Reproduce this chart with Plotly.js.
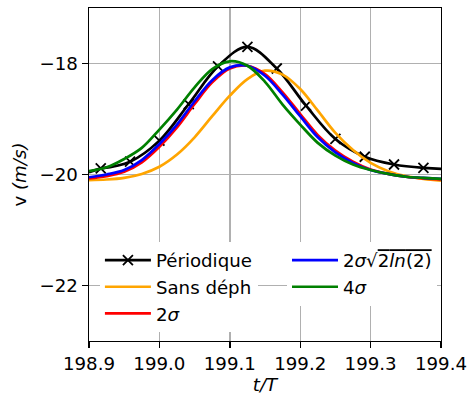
<!DOCTYPE html>
<html><head><meta charset="utf-8">
<script src="https://cdn.plot.ly/plotly-3.0.1.min.js"></script>
<style>html,body{margin:0;padding:0;background:#fff}#chart{width:470px;height:397px}</style>
</head><body><div id="chart"></div>
<script>
// time grid (t/T) for the smooth curves
const tGrid = [198.9, 198.925, 198.95, 198.975, 199.0, 199.025, 199.05, 199.075, 199.1, 199.125, 199.15,
               199.175, 199.2, 199.225, 199.25, 199.275, 199.3, 199.325, 199.35, 199.375, 199.4];
// "Sans déph" (orange)
const vSansDeph = [-20.10, -20.09, -20.06, -19.99, -19.86, -19.64, -19.33, -18.95, -18.58, -18.28, -18.13,
                   -18.20, -18.46, -18.85, -19.25, -19.56, -19.79, -19.94, -20.03, -20.08, -20.11];
// "2σ" (red)
const v2Sigma = [-20.07, -20.03, -19.95, -19.78, -19.50, -19.15, -18.73, -18.34, -18.09, -18.04, -18.19,
                 -18.52, -18.91, -19.29, -19.57, -19.77, -19.91, -19.99, -20.04, -20.07, -20.09];
// "2σ√(2ln(2))" (blue)
const v2SigmaLn = [-20.05, -20.00, -19.92, -19.74, -19.45, -19.10, -18.68, -18.30, -18.07, -18.04, -18.22,
                   -18.56, -18.95, -19.33, -19.60, -19.79, -19.92, -19.99, -20.04, -20.06, -20.08];
// "4σ" (green)
const v4Sigma = [-19.94, -19.87, -19.72, -19.52, -19.19, -18.83, -18.43, -18.10, -17.96, -18.04, -18.33,
                 -18.74, -19.10, -19.43, -19.66, -19.82, -19.92, -19.99, -20.04, -20.06, -20.08];
// "Périodique" (black, with markers)
const tPeriodique = [198.9167, 198.9583, 199.0, 199.0417, 199.0833, 199.125, 199.1667, 199.2083,
                     199.25, 199.2917, 199.3333, 199.375];
const vPeriodique = [-19.89, -19.77, -19.39, -18.73, -18.05, -17.70, -18.09, -18.76,
                     -19.36, -19.68, -19.82, -19.88];
// black line continues to the frame edges
const tPeriodiqueEdges = [198.9, 198.9167, null, 199.375, 199.4];
const vPeriodiqueEdges = [-19.96, -19.89, null, -19.88, -19.90];

const names = ['Périodique', 'Sans déph', '2<i>σ</i>',
  '2<i>σ</i>√<span style="text-decoration:overline">2<i>ln</i>(2)</span>', '4<i>σ</i>'];
const colors = ['#000000', '#FFA500', '#FF0000', '#0000FF', '#008000'];

const LW = 2.7;
const traces = [
  {x: tPeriodiqueEdges, y: vPeriodiqueEdges, mode: 'lines', line: {color: colors[0], width: LW, shape: 'spline'},
   showlegend: false, hoverinfo: 'skip'},
  {x: tPeriodique, y: vPeriodique, name: names[0], mode: 'lines+markers', legend: 'legend',
   line: {color: colors[0], width: LW, shape: 'spline'},
   marker: {symbol: 'x-thin', size: 10, line: {color: colors[0], width: 1.8}}},
  {x: tGrid, y: vSansDeph, name: names[1], mode: 'lines', legend: 'legend', line: {color: colors[1], width: LW, shape: 'spline'}},
  {x: tGrid, y: v2Sigma, name: names[2], mode: 'lines', legend: 'legend', line: {color: colors[2], width: LW, shape: 'spline'}},
  {x: tGrid, y: v2SigmaLn, name: names[3], mode: 'lines', legend: 'legend2', line: {color: colors[3], width: LW, shape: 'spline'}},
  {x: tGrid, y: v4Sigma, name: names[4], mode: 'lines', legend: 'legend2', line: {color: colors[4], width: LW, shape: 'spline'}}
];

const FS = 18.2;
const FONT = {family: 'DejaVu Sans', size: FS, color: '#000'};
const axisCommon = {
  showline: true, linecolor: '#000', linewidth: 1.4, mirror: true,
  ticks: 'outside', ticklen: 6, tickwidth: 1.4, tickcolor: '#000',
  showgrid: true, gridcolor: '#b0b0b0', gridwidth: 1.4, zeroline: false,
  tickfont: FONT
};
const legendCommon = {
  font: FONT, bgcolor: 'rgba(255,255,255,1)', borderwidth: 0,
  xanchor: 'left', yanchor: 'top', tracegroupgap: 0, itemwidth: 46
};
const layout = {
  width: 470, height: 397,
  margin: {l: 89, r: 29, t: 8, b: 56},
  paper_bgcolor: '#fff', plot_bgcolor: '#fff',
  font: FONT,
  showlegend: true,
  xaxis: Object.assign({}, axisCommon, {
    range: [198.9, 199.4], tick0: 198.9, dtick: 0.1, tickformat: '.1f',
    ticklabeloverflow: 'allow',
    title: {text: '<i>t/T</i>', font: FONT, standoff: 5}
  }),
  yaxis: Object.assign({}, axisCommon, {
    range: [-23, -17], tick0: -22, dtick: 2,
    title: {text: 'v <i>(m/s)</i>', font: FONT, standoff: 8}
  }),
  legend: Object.assign({}, legendCommon, {x: 0.031, y: 0.298}),
  legend2: Object.assign({}, legendCommon, {x: 0.5625, y: 0.298})
};
Plotly.newPlot('chart', traces, layout, {displayModeBar: false, staticPlot: true});
</script>
</body></html>
